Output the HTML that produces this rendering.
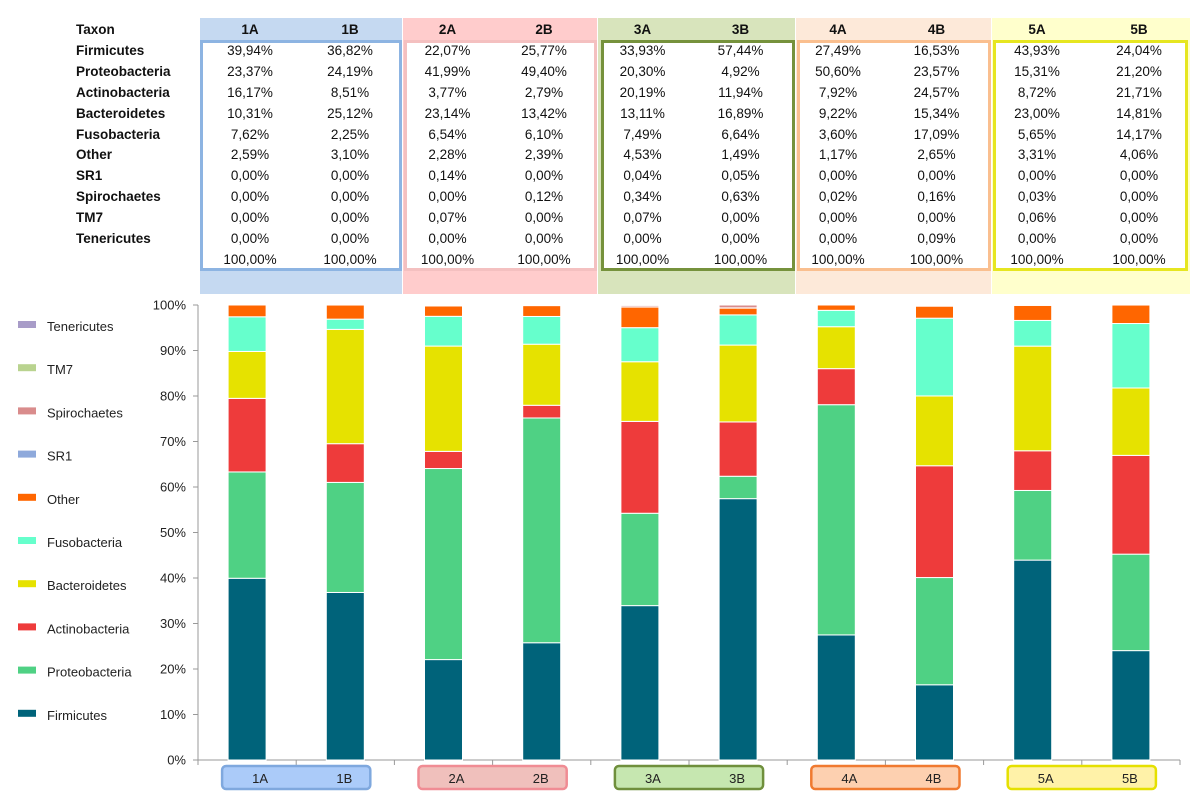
<!DOCTYPE html>
<html><head><meta charset="utf-8">
<style>
body{margin:0;width:1200px;height:804px;background:#fff;position:relative;overflow:hidden;font-family:"Liberation Sans",sans-serif;}
.band{position:absolute;}
.box{position:absolute;box-sizing:border-box;border:3px solid;}
table{position:absolute;left:76px;top:20px;border-collapse:collapse;font-size:13.5px;color:#111;}
td{height:20.9px;padding:0;text-align:center;line-height:20.9px;}
td.l{text-align:left;font-weight:bold;width:124px;}
tr.h td{font-weight:bold;}
svg{position:absolute;left:0;top:0;}
</style></head><body>
<div class="band" style="left:200px;top:18px;width:202px;height:276px;background:#c5d9f1"></div>
<div class="band" style="left:403px;top:18px;width:194px;height:276px;background:#ffcccc"></div>
<div class="band" style="left:598px;top:18px;width:197px;height:276px;background:#d8e4bc"></div>
<div class="band" style="left:796px;top:18px;width:195px;height:276px;background:#fde9d9"></div>
<div class="band" style="left:992px;top:18px;width:198px;height:276px;background:#ffffcc"></div>
<div class="box" style="left:200px;top:40px;width:202px;height:231px;border-color:#8db4e2;background:#fff"></div>
<div class="box" style="left:404px;top:40px;width:193px;height:231px;border-color:#f4c0c0;background:#fff"></div>
<div class="box" style="left:601px;top:40px;width:194px;height:231px;border-color:#76923c;background:#fff"></div>
<div class="box" style="left:797px;top:40px;width:194px;height:231px;border-color:#fabf8f;background:#fff"></div>
<div class="box" style="left:993px;top:40px;width:195px;height:231px;border-color:#e6e620;background:#fff"></div>
<table>
<colgroup><col style="width:124px"><col style="width:100px"><col style="width:100px"><col style="width:95px"><col style="width:98px"><col style="width:99px"><col style="width:97px"><col style="width:98px"><col style="width:99px"><col style="width:102px"><col style="width:102px"></colgroup>
<tr class="h"><td class="l">Taxon</td><td>1A</td><td>1B</td><td>2A</td><td>2B</td><td>3A</td><td>3B</td><td>4A</td><td>4B</td><td>5A</td><td>5B</td></tr>
<tr><td class="l">Firmicutes</td><td>39,94%</td><td>36,82%</td><td>22,07%</td><td>25,77%</td><td>33,93%</td><td>57,44%</td><td>27,49%</td><td>16,53%</td><td>43,93%</td><td>24,04%</td></tr>
<tr><td class="l">Proteobacteria</td><td>23,37%</td><td>24,19%</td><td>41,99%</td><td>49,40%</td><td>20,30%</td><td>4,92%</td><td>50,60%</td><td>23,57%</td><td>15,31%</td><td>21,20%</td></tr>
<tr><td class="l">Actinobacteria</td><td>16,17%</td><td>8,51%</td><td>3,77%</td><td>2,79%</td><td>20,19%</td><td>11,94%</td><td>7,92%</td><td>24,57%</td><td>8,72%</td><td>21,71%</td></tr>
<tr><td class="l">Bacteroidetes</td><td>10,31%</td><td>25,12%</td><td>23,14%</td><td>13,42%</td><td>13,11%</td><td>16,89%</td><td>9,22%</td><td>15,34%</td><td>23,00%</td><td>14,81%</td></tr>
<tr><td class="l">Fusobacteria</td><td>7,62%</td><td>2,25%</td><td>6,54%</td><td>6,10%</td><td>7,49%</td><td>6,64%</td><td>3,60%</td><td>17,09%</td><td>5,65%</td><td>14,17%</td></tr>
<tr><td class="l">Other</td><td>2,59%</td><td>3,10%</td><td>2,28%</td><td>2,39%</td><td>4,53%</td><td>1,49%</td><td>1,17%</td><td>2,65%</td><td>3,31%</td><td>4,06%</td></tr>
<tr><td class="l">SR1</td><td>0,00%</td><td>0,00%</td><td>0,14%</td><td>0,00%</td><td>0,04%</td><td>0,05%</td><td>0,00%</td><td>0,00%</td><td>0,00%</td><td>0,00%</td></tr>
<tr><td class="l">Spirochaetes</td><td>0,00%</td><td>0,00%</td><td>0,00%</td><td>0,12%</td><td>0,34%</td><td>0,63%</td><td>0,02%</td><td>0,16%</td><td>0,03%</td><td>0,00%</td></tr>
<tr><td class="l">TM7</td><td>0,00%</td><td>0,00%</td><td>0,07%</td><td>0,00%</td><td>0,07%</td><td>0,00%</td><td>0,00%</td><td>0,00%</td><td>0,06%</td><td>0,00%</td></tr>
<tr><td class="l">Tenericutes</td><td>0,00%</td><td>0,00%</td><td>0,00%</td><td>0,00%</td><td>0,00%</td><td>0,00%</td><td>0,00%</td><td>0,09%</td><td>0,00%</td><td>0,00%</td></tr>
<tr><td class="l"></td><td>100,00%</td><td>100,00%</td><td>100,00%</td><td>100,00%</td><td>100,00%</td><td>100,00%</td><td>100,00%</td><td>100,00%</td><td>100,00%</td><td>100,00%</td></tr>
</table>
<svg id="chart" width="1200" height="804"></svg>
<script>
const categories=["1A","1B","2A","2B","3A","3B","4A","4B","5A","5B"];
const seriesNames=["Firmicutes","Proteobacteria","Actinobacteria","Bacteroidetes","Fusobacteria","Other","SR1","Spirochaetes","TM7","Tenericutes"];
const firmicutes=[39.94,36.82,22.07,25.77,33.93,57.44,27.49,16.53,43.93,24.04];
const proteobacteria=[23.37,24.19,41.99,49.40,20.30,4.92,50.60,23.57,15.31,21.20];
const actinobacteria=[16.17,8.51,3.77,2.79,20.19,11.94,7.92,24.57,8.72,21.71];
const bacteroidetes=[10.31,25.12,23.14,13.42,13.11,16.89,9.22,15.34,23.00,14.81];
const fusobacteria=[7.62,2.25,6.54,6.10,7.49,6.64,3.60,17.09,5.65,14.17];
const other=[2.59,3.10,2.28,2.39,4.53,1.49,1.17,2.65,3.31,4.06];
const sr1=[0,0,0.14,0,0.04,0.05,0,0,0,0];
const spirochaetes=[0,0,0,0.12,0.34,0.63,0.02,0.16,0.03,0];
const tm7=[0,0,0.07,0,0.07,0,0,0,0.06,0];
const tenericutes=[0,0,0,0,0,0,0,0.09,0,0];
const yTicks=[0,10,20,30,40,50,60,70,80,90,100];
const groupLabels=[["1A","1B"],["2A","2B"],["3A","3B"],["4A","4B"],["5A","5B"]];

const series=[firmicutes,proteobacteria,actinobacteria,bacteroidetes,fusobacteria,other,sr1,spirochaetes,tm7,tenericutes];
const colors=["#00637a","#4fd184","#ee3b3b","#e6e200","#66ffcc","#ff6600","#8ea9db","#d98c8c","#b9d38f","#a89cc8"];
const NS="http://www.w3.org/2000/svg";
const svg=document.getElementById('chart');
const X0=198,X1=1180,Y0=760,Y1=305,BW=38;
const cw=(X1-X0)/categories.length;
const xc=i=>X0+cw*(i+0.5);
const y=v=>Y0-(v/100)*(Y0-Y1);
function mk(tag,at){const e=document.createElementNS(NS,tag);for(const k in at)e.setAttribute(k,at[k]);svg.appendChild(e);return e;}
let ax=mk('line',{x1:X0,y1:Y1,x2:X0,y2:Y0,stroke:'#999','stroke-width':1});


let bx=mk('line',{x1:X0,y1:Y0,x2:X1,y2:Y0,stroke:'#999','stroke-width':1});


yTicks.forEach(t=>{
  const tk=mk('line',{x1:X0-5,y1:y(t),x2:X0,y2:y(t),stroke:'#999'});
  
  
  const tx=mk('text',{x:X0-12,y:y(t)+4.5,'text-anchor':'end','font-size':13,fill:'#222','font-family':'Liberation Sans'});
  tx.textContent=t+'%';
  
  
});
for(let i=0;i<=categories.length;i++){
  const tk=mk('line',{x1:X0+cw*i,y1:Y0,x2:X0+cw*i,y2:Y0+5,stroke:'#999'});
  
  
}
categories.forEach((c,i)=>{
  let cum=0;
  series.forEach((s,k)=>{
    const v=s[i]; if(v<=0){return;}
    const r=mk('rect',{x:xc(i)-BW/2,y:y(cum+v),width:BW,height:y(cum)-y(cum+v),fill:colors[k],stroke:'#fff','stroke-width':1});
    
    
    cum+=v;
  });
});
for(let k=seriesNames.length-1;k>=0;k--){
  const idx=seriesNames.length-1-k;
  const ly=327+idx*43.2;
  const sw=mk('rect',{x:18,y:ly-6,width:18,height:7,fill:colors[k]});
  
  
  const t=mk('text',{x:47,y:ly+4,'font-size':13,fill:'#222','font-family':'Liberation Sans'});
  t.textContent=seriesNames[k];
  
  
}
const gfill=["#abcbf9","#f0c0bc","#c6e7b0","#fdd0b0","#fff2a8"];
const gstroke=["#7fa8de","#f08c94","#6f8f3c","#f07a30","#e5e000"];
groupLabels.forEach((g,j)=>{
  const a=xc(2*j),b=xc(2*j+1);
  const r=mk('rect',{x:a-25,y:766,width:b-a+50,height:23,rx:4,fill:gfill[j],stroke:gstroke[j],'stroke-width':2.5});
  
  
  g.forEach((lab,m)=>{
    const t=mk('text',{x:m?b-1:a+13,y:783,'text-anchor':'middle','font-size':13,fill:'#222','font-family':'Liberation Sans'});
    t.textContent=lab;
    
    
  });
});
</script>
</body></html>
